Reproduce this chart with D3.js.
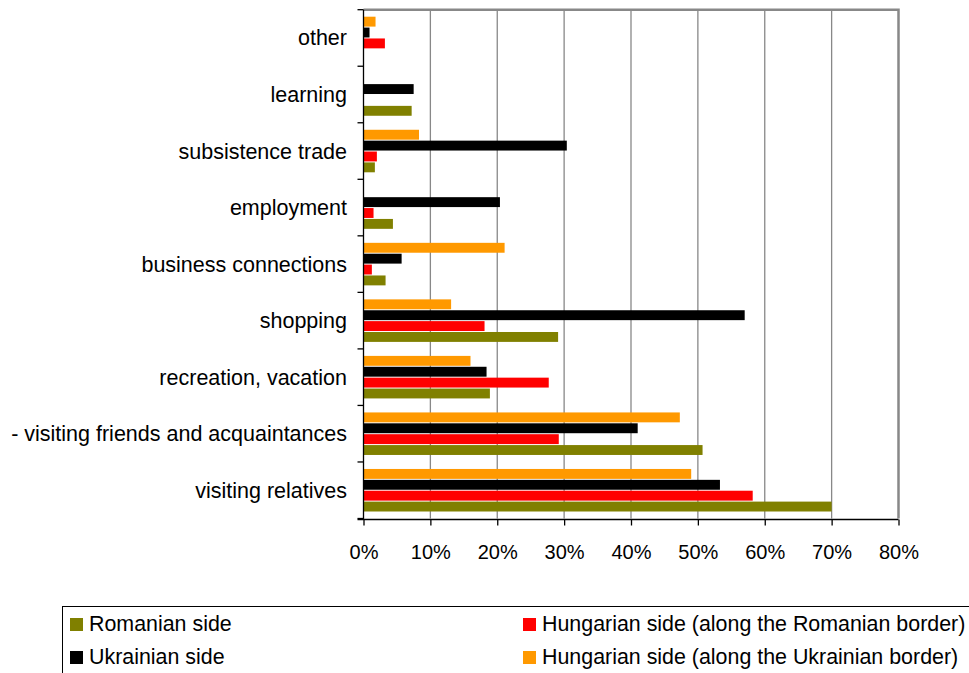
<!DOCTYPE html>
<html><head><meta charset="utf-8">
<script src="https://cdn.jsdelivr.net/npm/d3@7"></script>
<style>body{margin:0;background:#fff}svg{display:block}text{font-family:"Liberation Sans",Arial,sans-serif}</style>
</head><body>
<svg id="c" width="969" height="673"></svg>
<script>
const categories = ["other","learning","subsistence trade","employment","business connections","shopping","recreation, vacation","- visiting friends and acquaintances","visiting relatives"];
const seriesNames = ["Hungarian side (along the Ukrainian border)","Ukrainian side","Hungarian side (along the Romanian border)","Romanian side"];
const seriesColors = ["#FF9900","#000000","#FF0000","#808000"];
const hungarianUkrainian = [1.8,0,8.3,0,21.1,13.1,16.0,47.3,49.0];
const ukrainian = [0.9,7.5,30.4,20.4,5.7,57.0,18.4,41.0,53.3];
const hungarianRomanian = [3.2,0,2.0,1.5,1.25,18.1,27.7,29.2,58.2];
const romanian = [0,7.2,1.7,4.4,3.3,29.1,18.9,50.7,70.0];
const xTicks = [0,10,20,30,40,50,60,70,80];
const legendOrder = [3,2,1,0];

const values = [hungarianUkrainian, ukrainian, hungarianRomanian, romanian];
const svg = d3.select("#c");
const L = 363.5, R = 898.5, T = 9.7, B = 518.5;
const x = d3.scaleLinear().domain([0,80]).range([L,R]);
const y = d3.scaleBand().domain(categories).range([T,B]).paddingInner(0).paddingOuter(0);
const inner = d3.scaleBand().domain(d3.range(4)).range([7, y.bandwidth()-7]).paddingInner(0.09).paddingOuter(0);

// gridlines
svg.append("g").selectAll("line").data(xTicks.slice(1,-1)).join("line")
  .attr("x1",d=>x(d)).attr("x2",d=>x(d)).attr("y1",T).attr("y2",B)
  .attr("stroke","#888").attr("stroke-width",1.3);

// border top/right
svg.append("path").attr("d",`M${L},${T}H${R}V${B}`).attr("fill","none").attr("stroke","#888").attr("stroke-width",2.5);

// bars
const g = svg.append("g");
categories.forEach((c,i)=>{
  values.forEach((arr,s)=>{
    if(arr[i]>0) g.append("rect")
      .attr("x",x(0)).attr("y",y(c)+inner(s))
      .attr("width",x(arr[i])-x(0)).attr("height",inner.bandwidth())
      .attr("fill",seriesColors[s]);
  });
});

// y axis
const ya = svg.append("g").attr("transform",`translate(${L},0)`);
ya.append("line").attr("x1",0).attr("x2",0).attr("y1",T).attr("y2",B+1).attr("stroke","#000").attr("stroke-width",1.3);
ya.selectAll("line.bt").data(d3.range(categories.length+1)).join("line").attr("class","bt")
  .attr("x1",-6).attr("x2",0).attr("y1",i=>T+i*y.step()).attr("y2",i=>T+i*y.step()).attr("stroke","#000").attr("stroke-width",1.3);
svg.append("g").selectAll("text").data(categories).join("text")
  .attr("x",347).attr("y",d=>y(d)+y.bandwidth()/2).attr("dy","0.35em")
  .attr("text-anchor","end").attr("font-size",21.5).attr("fill","#000").text(d=>d);

// x axis
const xAxis = d3.axisBottom(x).tickValues(xTicks).tickSize(6).tickSizeOuter(0).tickFormat(d=>d+"%");
const xa = svg.append("g").attr("transform",`translate(0,${B+1})`).call(xAxis);
xa.select(".domain").attr("stroke","#000").attr("stroke-width",1.3).attr("d",`M${L-6},0H${R}`);
xa.selectAll(".tick line").attr("stroke","#000").attr("stroke-width",1.3);
xa.selectAll(".tick text").attr("font-size",20).attr("fill","#000").attr("y",32).attr("dy","0.35em")
  .attr("font-family","'Liberation Sans',Arial,sans-serif");

// legend
const lg = svg.append("g");
lg.append("rect").attr("x",62.5).attr("y",606.5).attr("width",920).attr("height",80).attr("fill","none").attr("stroke","#000").attr("stroke-width",1);
const pos = [[70,624],[523,624],[70,657],[523,657]];
legendOrder.forEach((s,k)=>{
  const [px,py]=pos[k];
  lg.append("rect").attr("x",px).attr("y",py-6).attr("width",13).attr("height",13).attr("fill",seriesColors[s]);
  lg.append("text").attr("x",px+19).attr("y",py).attr("dy","0.35em").attr("font-size",21.4).attr("fill","#000").text(seriesNames[s]);
});
</script>
</body></html>
